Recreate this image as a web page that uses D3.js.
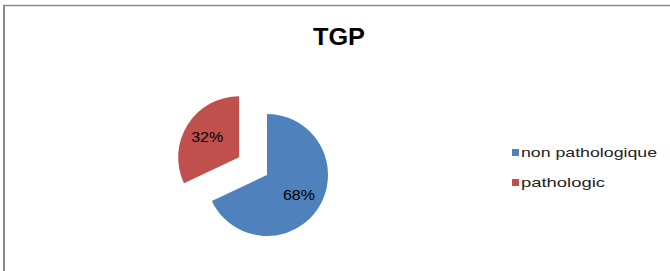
<!DOCTYPE html>
<html>
<head>
<meta charset="utf-8">
<script src="https://cdn.jsdelivr.net/npm/d3@7"></script>
<style>
  body { margin: 0; background: #fff; }
  svg { display: block; }
</style>
</head>
<body>
<div id="chart"></div>
<script>
/*** data ***/
const title = "TGP";
const categories = ["non pathologique", "pathologic"];
const values = [68, 32];
const colors = ["#4F81BD", "#C0504D"];
const exploded = [0, 1];

const width = 670;
const height = 271;

const svg = d3.select("#chart")
    .append("svg")
    .attr("width", width)
    .attr("height", height);

// frame (only top + left visible in the picture)
svg.append("line")
    .attr("x1", 3).attr("x2", width).attr("y1", 5.5).attr("y2", 5.5)
    .attr("stroke", "#8a8a8a").attr("stroke-width", 1.5);
svg.append("line")
    .attr("x1", 4).attr("x2", 4).attr("y1", 5).attr("y2", height)
    .attr("stroke", "#8a8a8a").attr("stroke-width", 2);

svg.append("text")
    .attr("x", 339)
    .attr("y", 45)
    .attr("text-anchor", "middle")
    .attr("font-family", "Liberation Sans, Arial, sans-serif")
    .attr("font-weight", "bold")
    .attr("font-size", 24)
    .attr("textLength", 52)
    .attr("lengthAdjust", "spacingAndGlyphs")
    .text(title);

/*** pie ***/
const cx = 267, cy = 175, r = 61, explode = 33;
const pie = d3.pie().sort(null).value(d => d)(values);
const arc = d3.arc().innerRadius(0).outerRadius(r);
const labelArc = d3.arc().innerRadius(r * 0.62).outerRadius(r * 0.62);

const g = svg.append("g").attr("transform", "translate(" + cx + "," + cy + ")");

const slices = g.selectAll("g.slice")
    .data(pie)
    .enter().append("g")
    .attr("class", "slice")
    .attr("transform", function (d, i) {
        const mid = (d.startAngle + d.endAngle) / 2;
        const off = exploded[i] ? explode : 0;
        return "translate(" + (Math.sin(mid) * off) + "," + (-Math.cos(mid) * off) + ")";
    });

slices.append("path")
    .attr("d", arc)
    .attr("fill", (d, i) => colors[i]);

slices.append("text")
    .attr("transform", function (d) {
        const c = labelArc.centroid(d);
        return "translate(" + c[0] + "," + (c[1] + 5) + ")";
    })
    .attr("text-anchor", "middle")
    .attr("font-family", "Liberation Sans, Arial, sans-serif")
    .attr("font-size", 14)
    .attr("textLength", 32)
    .attr("lengthAdjust", "spacingAndGlyphs")
    .attr("fill", "#000")
    .text(d => d.data + "%");

/*** legend ***/
const legend = svg.append("g").attr("transform", "translate(512,149)");
const items = legend.selectAll("g")
    .data(categories)
    .enter().append("g")
    .attr("transform", (d, i) => "translate(0," + (i * 30) + ")");

items.append("rect")
    .attr("width", 7).attr("height", 7)
    .attr("fill", (d, i) => colors[i]);

items.append("text")
    .attr("x", 9)
    .attr("y", 7.5)
    .attr("font-family", "Liberation Sans, Arial, sans-serif")
    .attr("font-size", 13.5)
    .attr("fill", "#222")
    .attr("textLength", (d, i) => i === 0 ? 136 : 84)
    .attr("lengthAdjust", "spacingAndGlyphs")
    .text(d => d);
</script>
</body>
</html>
